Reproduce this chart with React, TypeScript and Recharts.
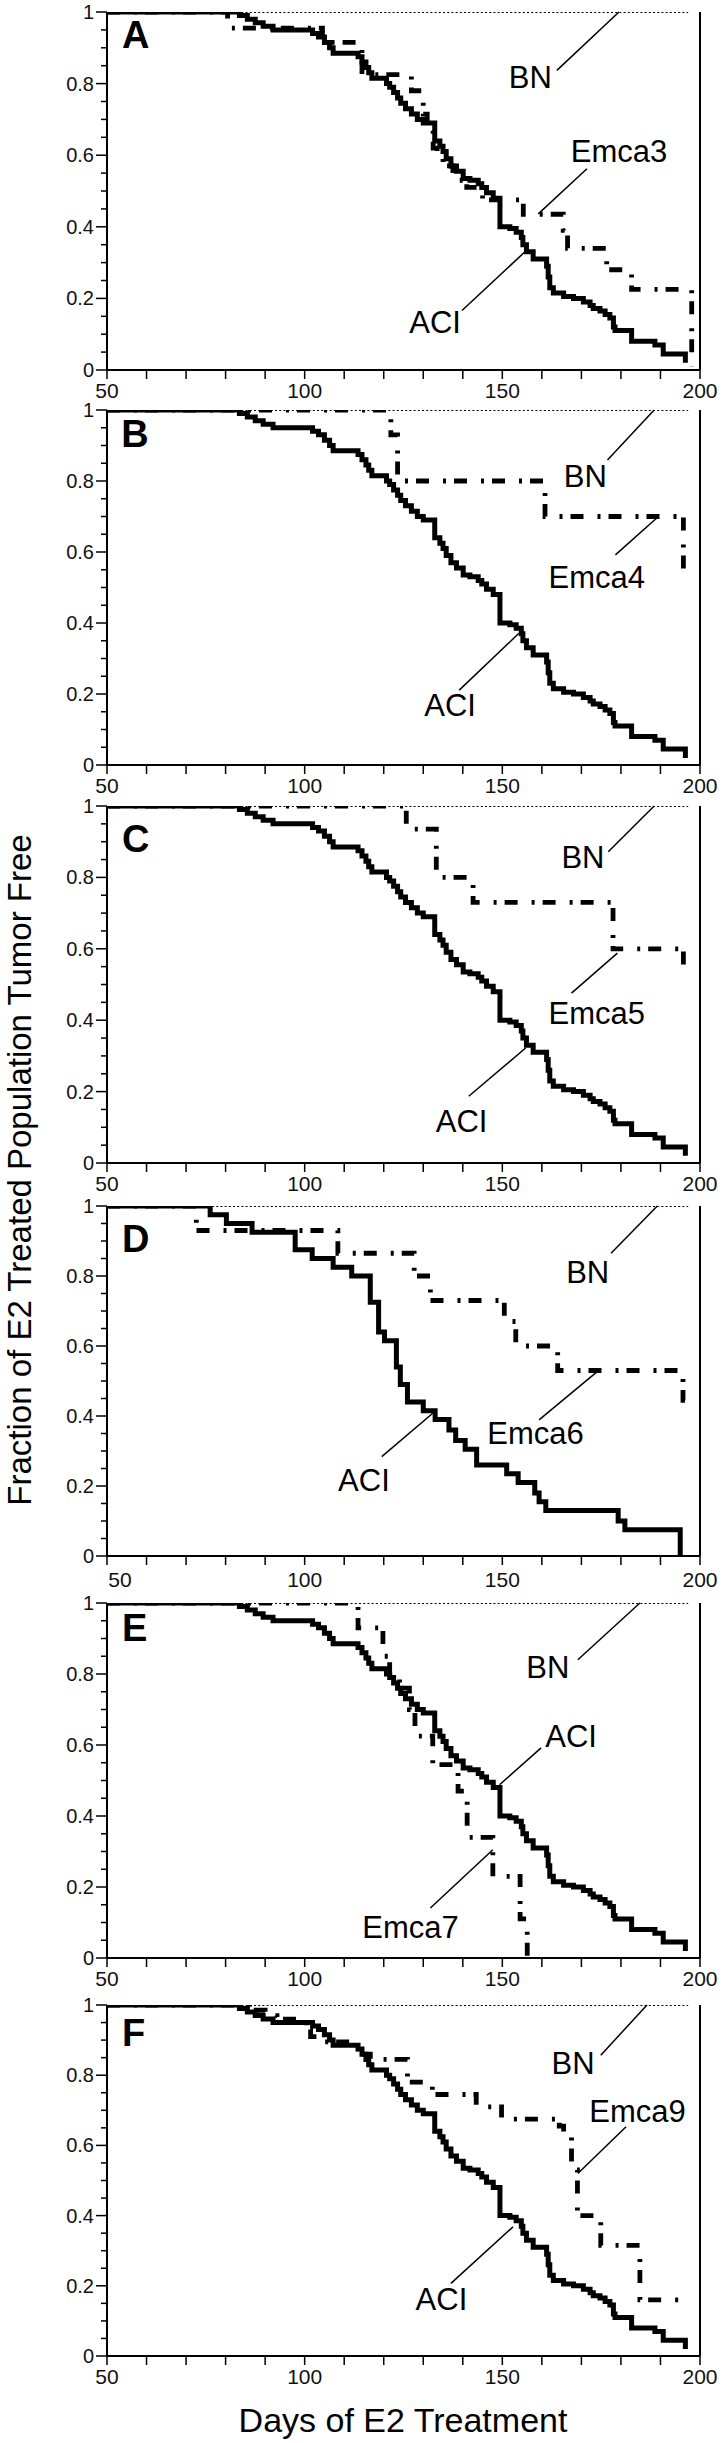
import React from 'react';
import { LineChart, Line, XAxis, YAxis, ReferenceLine, ReferenceDot } from 'recharts';

const FONT = '"Liberation Sans", Arial, Helvetica, sans-serif';

// ---- tick values / labels ----
const xTicks = [50, 60, 70, 80, 90, 100, 110, 120, 130, 140, 150, 160, 170, 180, 190, 200];
const xMajor = [50, 100, 150, 200];
const yTicks = [0, 0.05, 0.1, 0.15, 0.2, 0.25, 0.3, 0.35, 0.4, 0.45, 0.5, 0.55, 0.6, 0.65, 0.7, 0.75, 0.8, 0.85, 0.9, 0.95, 1];
const yMajor = [0, 0.2, 0.4, 0.6, 0.8, 1];
const yMajorLabels = ['0', '0.2', '0.4', '0.6', '0.8', '1'];

// ---- series (day, fraction tumor free) ----
const bnCurve = [[50, 1], [197, 1]];

const aciCurve = [
  [50, 1], [83.5, 0.99], [85.5, 0.98], [87.5, 0.97], [89.5, 0.96], [92, 0.95], [102, 0.94], [103.5, 0.93],
  [105, 0.915], [106.3, 0.9], [107.2, 0.885], [113.5, 0.875], [114.5, 0.86], [115.5, 0.845], [116.2, 0.83],
  [117, 0.815], [120.7, 0.8], [121.5, 0.79], [122.5, 0.775], [123.5, 0.76], [124.3, 0.745], [125.5, 0.73],
  [127, 0.715], [128.5, 0.7], [130, 0.69], [132.9, 0.64], [134.2, 0.625], [135, 0.61], [135.8, 0.59],
  [137, 0.57], [138.4, 0.555], [140.1, 0.535], [141.8, 0.53], [143.9, 0.52], [144.8, 0.51], [146, 0.495],
  [147.7, 0.48], [149.4, 0.4], [151.9, 0.395], [153.5, 0.385], [154.8, 0.37], [155.2, 0.35], [156.1, 0.33],
  [157.8, 0.31], [161.2, 0.29], [161.6, 0.26], [162, 0.23], [162.9, 0.215], [165.5, 0.205], [168, 0.2],
  [170.5, 0.19], [172.2, 0.18], [173, 0.172], [174.7, 0.165], [176, 0.155], [177.2, 0.145], [178.1, 0.12],
  [178.5, 0.11], [182.7, 0.08], [188.6, 0.07], [190.7, 0.045], [196.3, 0.02],
];

const aciCurveD = [
  [50, 1], [76.1, 0.975], [80.2, 0.95], [86.7, 0.925], [97.6, 0.875], [101.9, 0.85], [107.2, 0.825],
  [111.9, 0.8], [116.6, 0.725], [118.7, 0.64], [120.2, 0.615], [123.2, 0.54], [124.2, 0.49], [126, 0.44],
  [130, 0.415], [133, 0.39], [136.5, 0.36], [138.2, 0.33], [140.6, 0.305], [143.5, 0.26], [151.1, 0.235],
  [154, 0.21], [158.2, 0.18], [159.3, 0.155], [161, 0.13], [179.3, 0.1], [181, 0.075], [195, 0],
];

const emca3Curve = [
  [50, 1], [80.5, 0.955], [104.5, 0.935], [106, 0.915], [114.5, 0.825], [127, 0.78], [130, 0.715],
  [131, 0.67], [132.5, 0.62], [133.5, 0.6], [135, 0.57], [137.5, 0.55], [139, 0.53], [141, 0.51],
  [143.5, 0.49], [145, 0.475], [155.3, 0.435], [165.4, 0.39], [166.5, 0.34], [176.4, 0.28],
  [182.7, 0.225], [197.9, 0.01],
];
const emca4Curve = [[50, 1], [121.8, 0.93], [123.5, 0.8], [160.8, 0.7], [195.8, 0.56], [198, 0.56]];
const emca5Curve = [[50, 1], [125.7, 0.935], [133.3, 0.8], [142.6, 0.73], [178, 0.6], [195.8, 0.53], [196.5, 0.53]];
const emca6Curve = [
  [50, 1], [72.6, 0.93], [108.4, 0.865], [127.7, 0.8], [131.8, 0.73], [150.5, 0.67], [153.4, 0.6],
  [164, 0.53], [195.7, 0.445], [196.2, 0.445],
];
const emca7Curve = [
  [50, 1], [113.5, 0.93], [119.8, 0.85], [121.5, 0.79], [124, 0.76], [126.5, 0.7], [127.9, 0.625],
  [132.4, 0.545], [138.8, 0.47], [141.1, 0.34], [147.6, 0.23], [154.5, 0.11], [156.3, 0],
];
const emca9Curve = [
  [50, 1], [86, 0.985], [90, 0.97], [93, 0.96], [100.5, 0.93], [101.5, 0.91], [104, 0.895], [112, 0.875],
  [114, 0.86], [116.6, 0.845], [126, 0.78], [132.3, 0.745], [143.4, 0.71], [149.8, 0.675], [164.4, 0.655],
  [165.5, 0.635], [167.5, 0.53], [169, 0.4], [174.9, 0.315], [184.8, 0.16], [196.5, 0.16],
];

// ---- annotations: [text, x, y, leaderX1, leaderY1, leaderX2, leaderY2] ----
const annotA = [
  ['BN', 157.1, 0.816, 163.8, 0.837, 179.5, 1.0],
  ['Emca3', 179.5, 0.611, 171.4, 0.562, 159.1, 0.436],
  ['ACI', 133, 0.133, 139.8, 0.166, 155.6, 0.329],
];
const annotB = [
  ['BN', 171, 0.814, 176.6, 0.859, 188.4, 1.0],
  ['Emca4', 173.9, 0.529, 178.6, 0.592, 189, 0.695],
  ['ACI', 136.8, 0.169, 139.1, 0.211, 154.2, 0.371],
];
const annotC = [
  ['BN', 170.4, 0.856, 176.8, 0.872, 188.4, 1.0],
  ['Emca5', 173.9, 0.42, 167.5, 0.476, 179.1, 0.588],
  ['ACI', 139.7, 0.115, 141.5, 0.187, 155.9, 0.322],
];
const annotD = [
  ['BN', 171.6, 0.81, 177.5, 0.865, 189.2, 1.0],
  ['Emca6', 158.4, 0.35, 159.3, 0.389, 174, 0.527],
  ['ACI', 115, 0.215, 119.5, 0.284, 132.4, 0.408],
];
const annotE = [
  ['BN', 161.5, 0.817, 169.1, 0.84, 184.8, 1.0],
  ['ACI', 167.4, 0.624, 159.8, 0.592, 149.3, 0.488],
  ['Emca7', 126.8, 0.087, 131.8, 0.141, 147.6, 0.305],
];
const annotF = [
  ['BN', 167.9, 0.834, 174.9, 0.857, 186.6, 1.0],
  ['Emca9', 184.2, 0.696, 181.3, 0.653, 169.1, 0.52],
  ['ACI', 134.6, 0.161, 137, 0.207, 152.7, 0.368],
];

const panelLetters = ['A', 'B', 'C', 'D', 'E', 'F'];
const letterPos = [[53.8, 0.9], [53.6, 0.896], [53.8, 0.87], [53.8, 0.868], [53.8, 0.893], [53.8, 0.882]];

const toPts = (arr: number[][]) => arr.map(([x, y]) => ({ x, y }));

const panels = [
  { top: 12, bottom: 370, aci: aciCurve, emca: emca3Curve, annot: annotA },
  { top: 410, bottom: 765, aci: aciCurve, emca: emca4Curve, annot: annotB },
  { top: 806, bottom: 1163, aci: aciCurve, emca: emca5Curve, annot: annotC },
  { top: 1206, bottom: 1556, aci: aciCurveD, emca: emca6Curve, annot: annotD, xdy: 3, firstDx: 13 },
  { top: 1603, bottom: 1958, aci: aciCurve, emca: emca7Curve, annot: annotE },
  { top: 2005, bottom: 2356, aci: aciCurve, emca: emca9Curve, annot: annotF },
];

const XTick = (props: any) => {
  const { x, y, payload, xdy = 0, firstDx = 0 } = props;
  const v = payload.value;
  const major = xMajor.indexOf(v) >= 0;
  return (
    <g>
      <line x1={x} x2={x} y1={y} y2={y + 9} stroke="#000" strokeWidth={1.5} />
      {major && (
        <text x={x + (v === 50 ? firstDx : 0)} y={y + 28 + xdy} textAnchor="middle" fontSize={21} fontFamily={FONT} fill="#111">
          {v}
        </text>
      )}
    </g>
  );
};

const YTick = (props: any) => {
  const { x, y, payload } = props;
  const v = payload.value;
  const idx = yMajor.findIndex((m) => Math.abs(m - v) < 1e-6);
  const major = idx >= 0;
  const len = major ? 11 : 6;
  return (
    <g>
      <line x1={x - len} x2={x} y1={y} y2={y} stroke="#000" strokeWidth={1.5} />
      {major && (
        <text x={x - len - 2} y={y} textAnchor="end" dominantBaseline="central" fontSize={20} fontFamily={FONT} fill="#111">
          {yMajorLabels[idx]}
        </text>
      )}
    </g>
  );
};

const TextLabel = (props: any) => {
  const vb = props.viewBox || {};
  const cx = (vb.x || 0) + (vb.width || 0) / 2;
  const cy = (vb.y || 0) + (vb.height || 0) / 2;
  return (
    <text
      x={cx}
      y={cy}
      textAnchor={props.anchor || 'middle'}
      dominantBaseline={props.baseline || 'central'}
      fontSize={props.size || 31}
      fontWeight={props.weight || 'normal'}
      fontFamily={FONT}
      fill="#000"
    >
      {props.text}
    </text>
  );
};

const MT = 14;
const MB = 6;
const XH = 40;

function Panel({ cfg, idx }: any) {
  const plotH = cfg.bottom - cfg.top;
  const height = plotH + MT + MB + XH;
  return (
    <div style={{ position: 'absolute', left: 0, top: cfg.top - MT }}>
      <LineChart width={724} height={height} margin={{ top: MT, right: 24, bottom: MB, left: 47 }}>
        <XAxis
          type="number"
          dataKey="x"
          domain={[50, 200]}
          ticks={xTicks}
          interval={0}
          allowDataOverflow
          height={XH}
          tickSize={0}
          tickMargin={0}
          tickLine={false}
          axisLine={{ stroke: '#000', strokeWidth: 2 }}
          tick={<XTick xdy={cfg.xdy || 0} firstDx={cfg.firstDx || 0} />}
        />
        <YAxis
          type="number"
          dataKey="y"
          domain={[0, 1]}
          ticks={yTicks}
          interval={0}
          allowDataOverflow
          width={60}
          tickSize={0}
          tickMargin={0}
          tickLine={false}
          axisLine={{ stroke: '#000', strokeWidth: 2 }}
          tick={<YTick />}
        />
        <ReferenceLine x={200} stroke="#000" strokeWidth={2} ifOverflow="visible" />
        <Line
          data={toPts(bnCurve)}
          dataKey="y"
          type="linear"
          stroke="#000"
          strokeWidth={1.8}
          strokeDasharray="2 2.2"
          dot={false}
          activeDot={false}
          isAnimationActive={false}
        />
        <Line
          data={toPts(cfg.emca)}
          dataKey="y"
          type="stepAfter"
          stroke="#000"
          strokeWidth={4.8}
          strokeDasharray="13 14 3 8"
          dot={false}
          activeDot={false}
          isAnimationActive={false}
        />
        <Line
          data={toPts(cfg.aci)}
          dataKey="y"
          type="stepAfter"
          stroke="#000"
          strokeWidth={5}
          dot={false}
          activeDot={false}
          isAnimationActive={false}
        />
        {cfg.annot.map((a: any, i: number) => (
          <ReferenceLine
            key={'l' + i}
            segment={[{ x: a[3], y: a[4] }, { x: a[5], y: a[6] }]}
            stroke="#000"
            strokeWidth={1.5}
            ifOverflow="visible"
          />
        ))}
        {cfg.annot.map((a: any, i: number) => (
          <ReferenceDot
            key={'t' + i}
            x={a[1]}
            y={a[2]}
            r={0}
            fill="none"
            stroke="none"
            ifOverflow="visible"
            label={<TextLabel text={a[0]} />}
          />
        ))}
        <ReferenceDot
          x={letterPos[idx][0]}
          y={letterPos[idx][1]}
          r={0}
          fill="none"
          stroke="none"
          ifOverflow="visible"
          label={<TextLabel text={panelLetters[idx]} anchor="start" baseline="alphabetic" size={38} weight="bold" />}
        />
      </LineChart>
    </div>
  );
}

export default function App() {
  return (
    <div style={{ position: 'absolute', left: 0, top: 0, width: 724, height: 2443, background: '#fff', fontFamily: FONT, overflow: 'hidden' }}>
      {panels.map((p, i) => (
        <Panel key={i} cfg={p} idx={i} />
      ))}
      <div
        style={{
          position: 'absolute',
          left: 20 - 400,
          top: 1170 - 17,
          width: 800,
          height: 34,
          lineHeight: '34px',
          fontSize: 33,
          textAlign: 'center',
          transform: 'rotate(-90deg)',
          whiteSpace: 'nowrap',
          color: '#000',
        }}
      >
        Fraction of E2 Treated Population Tumor Free
      </div>
      <div
        style={{
          position: 'absolute',
          left: 403 - 300,
          top: 2403,
          width: 600,
          height: 34,
          lineHeight: '34px',
          fontSize: 34,
          textAlign: 'center',
          whiteSpace: 'nowrap',
          color: '#000',
        }}
      >
        Days of E2 Treatment
      </div>
    </div>
  );
}
